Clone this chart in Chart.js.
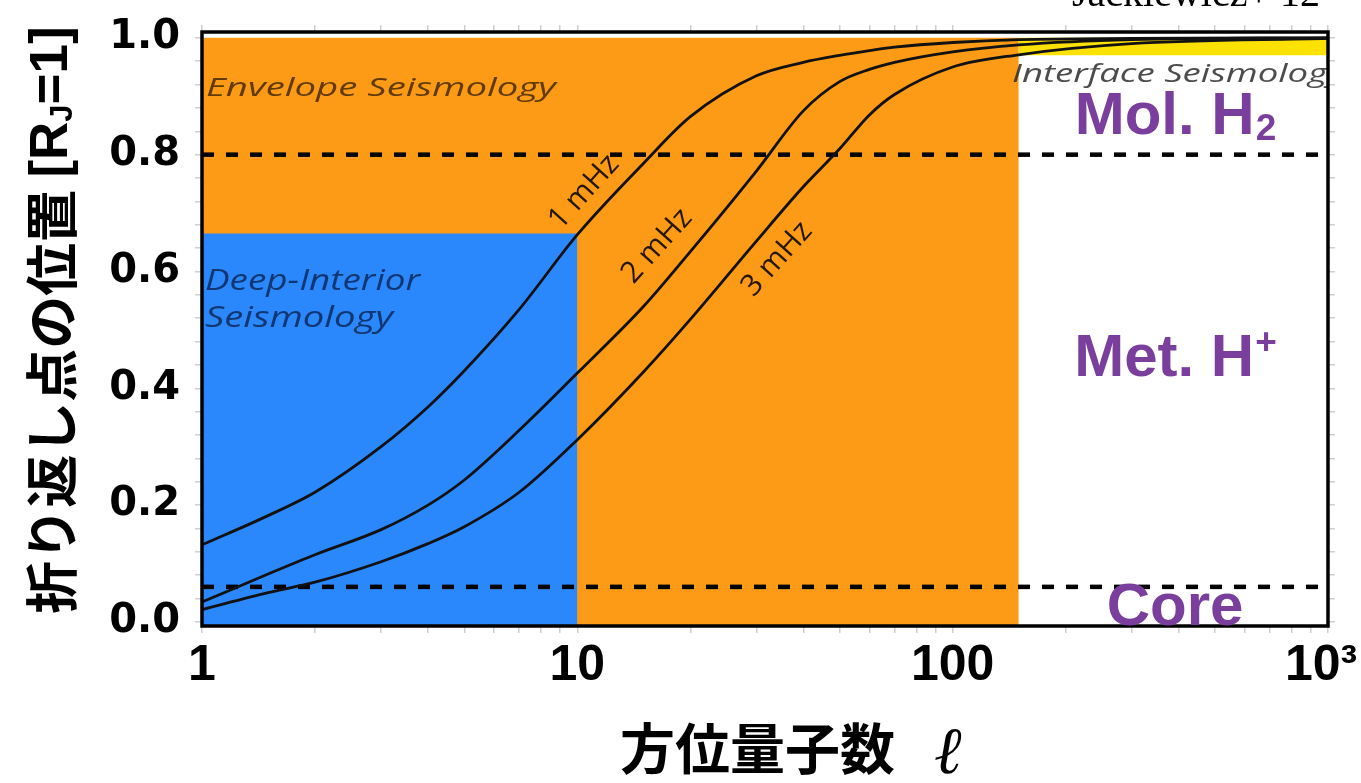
<!DOCTYPE html>
<html><head><meta charset="utf-8">
<script src="https://cdn.jsdelivr.net/npm/chart.js@4.4.1/dist/chart.umd.min.js"></script>
<style>html,body{margin:0;padding:0;background:#fff;}#wrap{width:1361px;height:783px;}</style>
</head><body><div id="wrap"><canvas id="c" width="1361" height="783"></canvas></div>
<script>
// ---- data ----
const degreeL   = [1, 1.5, 2, 3, 4, 5, 7, 10, 15, 20, 30, 40, 50, 60, 70, 100, 150, 300, 1000];
const turn1mHz  = [0.132, 0.182, 0.222, 0.300, 0.368, 0.430, 0.535, 0.663, 0.785, 0.865, 0.935, 0.958, 0.970, 0.978, 0.984, 0.992, 0.997, 0.999, 1.000];
const turn2mHz  = [0.034, 0.082, 0.115, 0.158, 0.200, 0.243, 0.328, 0.426, 0.540, 0.634, 0.772, 0.875, 0.925, 0.946, 0.958, 0.976, 0.988, 0.997, 1.000];
const turn3mHz  = [0.021, 0.050, 0.068, 0.103, 0.134, 0.163, 0.222, 0.312, 0.428, 0.518, 0.652, 0.745, 0.810, 0.868, 0.903, 0.950, 0.971, 0.990, 0.999];
const curveNames = ['1 mHz', '2 mHz', '3 mHz'];

const deepInteriorL = [1, 10];     const deepInteriorTop = [0.665, 0.665];
const envelopeL     = [1, 150];    const envelopeTop     = [1.0, 1.0];
const interfaceL    = [150, 1000]; const interfaceTop    = [1.0, 1.0]; const interfaceBottom = 0.97;
const boundaryL     = [1, 1000];
const molBoundary   = [0.8, 0.8];
const coreBoundary  = [0.06, 0.06];

const xTickValues  = [1, 10, 100, 1000];
const xTickLabels  = ['1', '10', '100', '10³ '];
const xMinorValues = [2,3,4,5,6,7,8,9,20,30,40,50,60,70,80,90,200,300,400,500,600,700,800,900];
const yTickValues  = [0, 0.2, 0.4, 0.6, 0.8, 1.0];
const yTickLabels  = ['0.0', '0.2', '0.4', '0.6', '0.8', '1.0'];
const yMinorValues = [0,0.04,0.08,0.12,0.16,0.2,0.24,0.28,0.32,0.36,0.4,0.44,0.48,0.52,0.56,0.6,0.64,0.68,0.72,0.76,0.8,0.84,0.88,0.92,0.96,1.0];

// ---- helpers ----
const pts = (xs, ys) => xs.map((x, i) => ({x: x, y: ys[i]}));
const region = (label, xs, ys, color, fill, order) => ({
  label, data: pts(xs, ys), borderWidth: 0, pointRadius: 0, backgroundColor: color,
  fill, order, tension: 0
});
const curve = (label, ys) => ({
  label, data: pts(degreeL, ys), borderColor: '#121212', borderWidth: 2.8, pointRadius: 0,
  fill: false, order: 1, cubicInterpolationMode: 'monotone'
});
const dashed = (label, ys) => ({
  label, data: pts(boundaryL, ys), borderColor: '#000', borderWidth: 4.5, borderDash: [12, 12],
  pointRadius: 0, fill: false, order: 2
});

const xTickCb = (v) => { const i = xTickValues.indexOf(v); return i >= 0 ? xTickLabels[i] : ''; };
const yTickCb = (v) => { const i = yTickValues.findIndex(t => Math.abs(t - v) < 1e-6); return i >= 0 ? yTickLabels[i] : ''; };
const allX = () => [...xTickValues, ...xMinorValues].sort((a, b) => a - b).map(v => ({value: v}));
const allY = () => yMinorValues.map(v => ({value: v}));
const gridStyle = {drawOnChartArea: false, drawTicks: true, tickLength: 7, color: '#cfcfcf', lineWidth: 1.5};
const fixBox = (dim, val) => s => {
  s[dim] = val;
  s.paddingLeft = 0; s.paddingRight = 0; s.paddingTop = 0; s.paddingBottom = 0;
};

function drawFit(ctx, text, x, y, w, font, color) {
  ctx.save();
  ctx.font = font; ctx.fillStyle = color; ctx.textAlign = 'left'; ctx.textBaseline = 'alphabetic';
  const m = ctx.measureText(text).width;
  ctx.translate(x, y); ctx.scale(w / m, 1);
  ctx.fillText(text, 0, 0);
  ctx.restore();
}
function drawChem(ctx, main, script, kind, cx, base) {
  const big = 'bold 60px "Liberation Sans", Arial, sans-serif';
  const small = 'bold 37px "Liberation Sans", Arial, sans-serif';
  ctx.save();
  ctx.fillStyle = '#7a3f9d'; ctx.textBaseline = 'alphabetic'; ctx.textAlign = 'left';
  ctx.font = big; const w1 = ctx.measureText(main).width;
  ctx.font = small; const w2 = script ? ctx.measureText(script).width : 0;
  const x0 = cx - (w1 + w2) / 2;
  ctx.font = big; ctx.fillText(main, x0, base);
  if (script) { ctx.font = small; ctx.fillText(script, x0 + w1 + 1, kind === 'sub' ? base + 6 : base - 22); }
  ctx.restore();
}

const decor = {
  id: 'decor',
  afterDatasetsDraw(chart) {
    const ctx = chart.ctx, a = chart.chartArea;
    // region captions
    ctx.save();
    ctx.beginPath(); ctx.rect(a.left, a.top, a.right - a.left, a.bottom - a.top); ctx.clip();
    drawFit(ctx, 'Envelope Seismology', 206, 96, 350, 'italic 26px "Open Sans", sans-serif', 'rgba(70,42,0,0.85)');
    drawFit(ctx, 'Deep-Interior', 205, 290, 215, 'italic 29px "Open Sans", sans-serif', 'rgba(12,40,90,0.85)');
    drawFit(ctx, 'Seismology', 205, 327, 188, 'italic 29px "Open Sans", sans-serif', 'rgba(12,40,90,0.85)');
    drawFit(ctx, 'Interface Seismology', 1012, 82, 332, 'italic 25px "Open Sans", sans-serif', 'rgba(45,45,45,0.85)');
    ctx.restore();
    // curve labels
    const lab = [[curveNames[0], 584, 192], [curveNames[1], 657, 246], [curveNames[2], 777, 259]];
    ctx.save();
    ctx.font = '30px "Open Sans", sans-serif'; ctx.fillStyle = 'rgba(20,12,0,0.92)';
    ctx.textAlign = 'center'; ctx.textBaseline = 'middle';
    lab.forEach(([t, x, y]) => { ctx.save(); ctx.translate(x, y); ctx.rotate(-48 * Math.PI / 180); ctx.fillText(t, 0, 0); ctx.restore(); });
    ctx.restore();
    // frame
    ctx.save();
    ctx.strokeStyle = '#000'; ctx.lineWidth = 3.5;
    ctx.strokeRect(a.left, a.top, a.right - a.left, a.bottom - a.top);
    ctx.restore();
    // layer names
    drawChem(ctx, 'Mol. H', '2', 'sub', 1175, 134);
    drawChem(ctx, 'Met. H', '+', 'sup', 1175, 376);
    drawChem(ctx, 'Core', '', '', 1175, 625);
    // axis titles
    ctx.save();
    ctx.fillStyle = '#000'; ctx.textBaseline = 'middle'; ctx.textAlign = 'left';
    ctx.font = 'bold 55px "Noto Sans CJK JP", sans-serif';
    ctx.fillText('方位量子数', 620, 748);
    ctx.font = 'italic 66px "DejaVu Serif", serif'; ctx.textBaseline = 'alphabetic';
    ctx.fillText('ℓ', 934, 773);
    ctx.restore();
    // y title rotated
    ctx.save();
    ctx.translate(52, 320); ctx.rotate(-Math.PI / 2);
    ctx.fillStyle = '#000'; ctx.textBaseline = 'middle'; ctx.textAlign = 'left';
    const cjk = 'bold 53px "Noto Sans CJK JP", sans-serif';
    const lat = 'bold 53px "Liberation Sans", Arial, sans-serif';
    const sub = 'bold 31px "Liberation Sans", Arial, sans-serif';
    const parts = [['折り返し点の位置 ', cjk, 0], ['[R', lat, 0], ['J', sub, 11], ['=1]', lat, 0]];
    let tot = 0; parts.forEach(p => { ctx.font = p[1]; p.push(ctx.measureText(p[0]).width); tot += p[3]; });
    let xx = -tot / 2;
    parts.forEach(p => { ctx.font = p[1]; ctx.fillText(p[0], xx, p[2]); xx += p[3]; });
    ctx.restore();
    // citation
    ctx.save();
    ctx.font = '40px "Liberation Serif", "Times New Roman", serif'; ctx.fillStyle = '#000';
    ctx.textAlign = 'right'; ctx.textBaseline = 'alphabetic';
    ctx.fillText('Jackiewicz+ 12', 1320, 6);
    ctx.restore();
  }
};

new Chart(document.getElementById('c'), {
  type: 'line',
  data: {
    datasets: [
      curve(curveNames[0], turn1mHz),
      curve(curveNames[1], turn2mHz),
      curve(curveNames[2], turn3mHz),
      dashed('Mol/Met boundary', molBoundary),
      dashed('Core boundary', coreBoundary),
      region('Interface', interfaceL, interfaceTop, '#fde100', {value: interfaceBottom}, 10),
      region('Deep interior', deepInteriorL, deepInteriorTop, '#2b88fc', 'start', 11),
      region('Envelope', envelopeL, envelopeTop, '#fd9b16', 'start', 12)
    ]
  },
  options: {
    responsive: false, animation: false,
    layout: {padding: {left: 0, right: 25, top: 24, bottom: 0}},
    plugins: {legend: {display: false}, tooltip: {enabled: false}},
    scales: {
      x: {
        type: 'logarithmic', position: 'bottom', min: 1, max: 1000,
        afterBuildTicks: s => { s.ticks = allX(); },
        afterFit: fixBox('height', 157),
        ticks: {autoSkip: false, maxRotation: 0, callback: xTickCb, color: '#000', padding: 3,
                font: {family: '"Liberation Sans", Arial, sans-serif', weight: 'bold', size: 50}},
        grid: gridStyle, border: {display: false}
      },
      x2: {
        type: 'logarithmic', position: 'top', min: 1, max: 1000,
        afterBuildTicks: s => { s.ticks = allX(); },
        afterFit: fixBox('height', 8),
        ticks: {display: false}, grid: gridStyle, border: {display: false}
      },
      y: {
        type: 'linear', position: 'left', min: -0.007, max: 1.01,
        afterBuildTicks: s => { s.ticks = allY(); },
        afterFit: fixBox('width', 202),
        ticks: {autoSkip: false, callback: yTickCb, color: '#000', padding: 15,
                font: {family: '"DejaVu Sans", sans-serif', weight: 'bold', size: 40}},
        grid: gridStyle, border: {display: false}
      },
      y2: {
        type: 'linear', position: 'right', min: -0.007, max: 1.01,
        afterBuildTicks: s => { s.ticks = allY(); },
        afterFit: fixBox('width', 8),
        ticks: {display: false}, grid: gridStyle, border: {display: false}
      }
    }
  },
  plugins: [decor]
});
</script></body></html>
